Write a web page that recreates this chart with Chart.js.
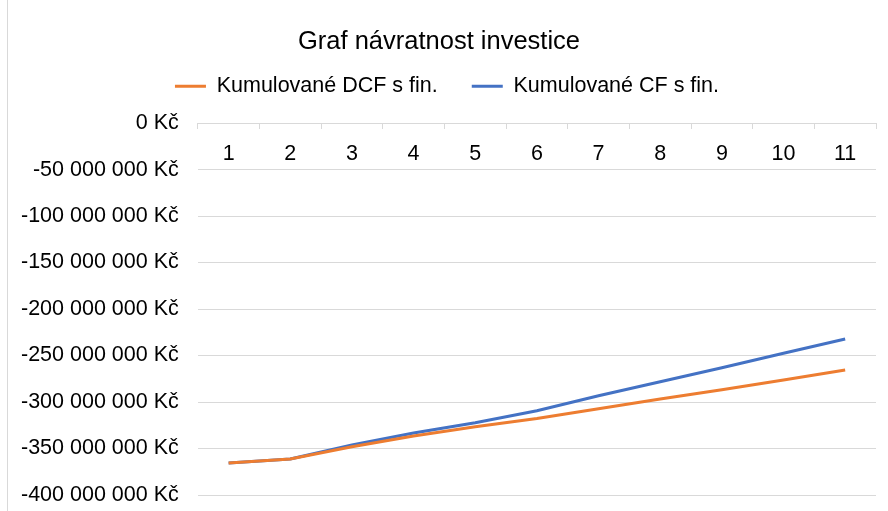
<!DOCTYPE html>
<html lang="cs">
<head>
<meta charset="utf-8">
<title>Graf návratnost investice</title>
<script src="https://cdn.jsdelivr.net/npm/chart.js@4/dist/chart.umd.min.js"></script>
<style>
    html, body { margin: 0; padding: 0; background: #fff; }
    #obal { position: relative; width: 888px; height: 511px; }
    #okraj { position: absolute; left: 7px; top: 0; width: 1px; height: 511px; background: #d9d9d9; }
    #graf { position: absolute; left: 0; top: 0; }
</style>
</head>
<body>
<div id="obal">
    <div id="okraj"></div>
    <canvas id="graf" width="888" height="511"></canvas>
</div>
<script>
// Roky projektu (osa x)
var roky = ["1", "2", "3", "4", "5", "6", "7", "8", "9", "10", "11"];

// Kumulované diskontované cash flow s financováním (Kč)
var kumulovaneDCF = [
    -365600000, -361300000, -348100000, -336600000, -326600000, -317700000,
    -307300000, -296800000, -286800000, -276300000, -265600000
];

// Kumulované cash flow s financováním (Kč)
var kumulovaneCF = [
    -365600000, -361300000, -346200000, -333300000, -322300000, -309400000,
    -293200000, -278200000, -263100000, -247600000, -232300000
];

var osaMin = -400000000;
var osaMax = 0;
var osaKrok = 50000000;

// Formát "-50 000 000 Kč"
function formatKc(hodnota) {
    var s = String(Math.abs(Math.round(hodnota)));
    s = s.replace(/\B(?=(\d{3})+(?!\d))/g, " ");
    return (hodnota < 0 ? "-" : "") + s + " Kč";
}

// Legenda je v originále vystředěná na celou šířku, ne jen na oblast grafu
var posunLegendy = {
    id: "posunLegendy",
    afterLayout: function (chart) {
        chart.legend.left += 8;
        chart.legend.right += 8;
    },
};

function setupGraf() {
    var ctx = document.getElementById("graf");
    var pismo = "'Liberation Sans', Arial, sans-serif";

    new Chart(ctx, {
        type: "line",
        data: {
            labels: roky,
            datasets: [{
                label: "Kumulované DCF s fin.",
                data: kumulovaneDCF,
                borderColor: "#ED7D31",
                backgroundColor: "#ED7D31",
                borderWidth: 3,
                pointRadius: 0,
                tension: 0,
            }, {
                label: "Kumulované CF s fin.",
                data: kumulovaneCF,
                borderColor: "#4472C4",
                backgroundColor: "#4472C4",
                borderWidth: 3,
                pointRadius: 0,
                tension: 0,
            }],
        },
        options: {
            responsive: false,
            animation: false,
            layout: {
                padding: { top: 0, left: 2, right: 12, bottom: 16 },
            },
            plugins: {
                title: {
                    display: true,
                    text: "Graf návratnost investice",
                    color: "#000",
                    font: { family: pismo, size: 25.5, weight: "normal", lineHeight: 1.2 },
                    padding: { top: 27, bottom: -16 },
                },
                // prázdný podtitulek jen jako mezera mezi legendou a grafem
                subtitle: {
                    display: true,
                    text: "",
                    weight: 500,
                    font: { size: 10, lineHeight: 1.6 },
                    padding: 0,
                },
                legend: {
                    labels: {
                        color: "#000",
                        font: { family: pismo, size: 21.5 },
                        usePointStyle: true,
                        pointStyle: "line",
                        pointStyleWidth: 31,
                        padding: 34,
                    },
                },
                tooltip: { enabled: false },
            },
            scales: {
                x: {
                    type: "category",
                    offset: true,
                    position: { y: 0 },
                    // osa leží na nule, dole nemá zabírat místo
                    afterFit: function (osa) { osa.height = 0; },
                    border: { color: "#d9d9d9", width: 1 },
                    grid: {
                        drawOnChartArea: false,
                        color: "#d9d9d9",
                        tickLength: 5,
                        offset: true,
                    },
                    ticks: {
                        color: "#000",
                        font: { family: pismo, size: 21.5 },
                        padding: 13,
                        maxRotation: 0,
                    },
                },
                y: {
                    min: osaMin,
                    max: osaMax,
                    // odsazení popisků nemá ubírat místo dole
                    afterFit: function (osa) { osa.paddingBottom = 0; },
                    border: { display: false },
                    grid: {
                        color: "#d9d9d9",
                        drawTicks: false,
                    },
                    ticks: {
                        stepSize: osaKrok,
                        color: "#000",
                        font: { family: pismo, size: 21.5 },
                        padding: 19,
                        callback: function (v) { return formatKc(v); },
                    },
                },
            },
        },
        plugins: [posunLegendy],
    });
}

window.addEventListener("load", setupGraf);
</script>
</body>
</html>
